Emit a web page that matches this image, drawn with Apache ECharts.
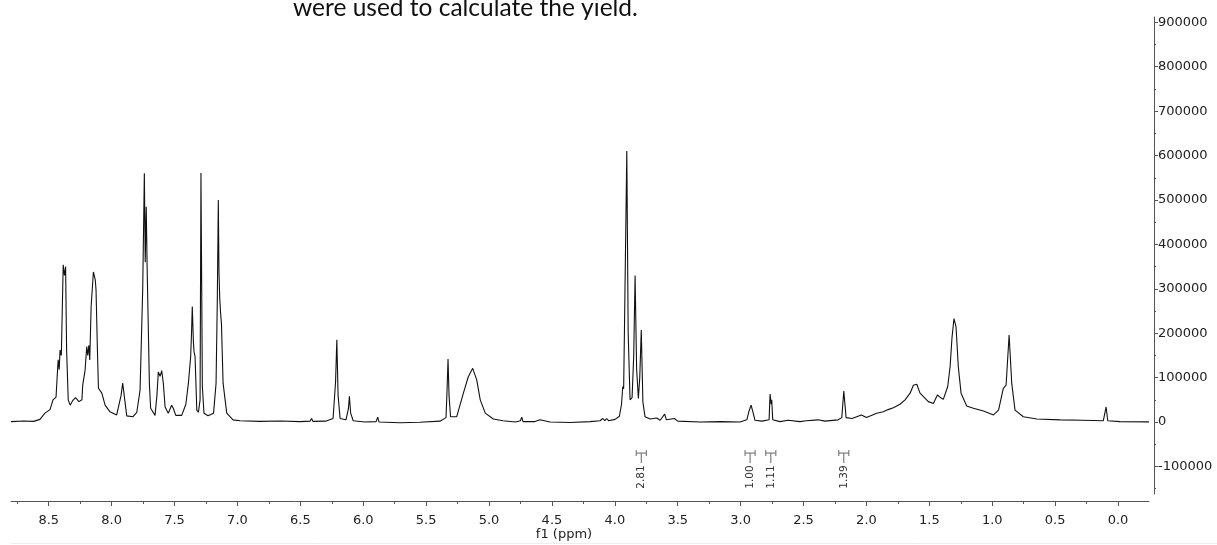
<!DOCTYPE html>
<html>
<head>
<meta charset="utf-8">
<script src="https://cdn.jsdelivr.net/npm/echarts@6/dist/echarts.min.js"></script>
<style>
  html, body { margin: 0; padding: 0; background: #ffffff; }
  #chart { width: 1217px; height: 545px; }
</style>
</head>
<body>
<div id="chart"></div>
<script>
// 1H NMR trace: chemical shift (ppm) and intensity, listed from low field to high field
const shifts = [
  8.80, 8.70, 8.62, 8.57, 8.53, 8.515, 8.49, 8.476, 8.466, 8.442, 8.43, 8.425, 8.417, 8.41, 8.40,
  8.385, 8.375, 8.366, 8.358, 8.345, 8.33, 8.31, 8.287, 8.26, 8.236, 8.23, 8.211, 8.198, 8.19, 8.181,
  8.174, 8.163, 8.145, 8.13, 8.124, 8.113, 8.105, 8.078, 8.052, 8.013, 7.96, 7.947, 7.925, 7.912, 7.898,
  7.88, 7.83, 7.80, 7.774, 7.753, 7.74, 7.733, 7.725, 7.718, 7.70, 7.69, 7.655, 7.64, 7.629, 7.615,
  7.602, 7.589, 7.575, 7.55, 7.523, 7.51, 7.49, 7.443, 7.41, 7.39, 7.372, 7.365, 7.359, 7.35, 7.345,
  7.337, 7.323, 7.31, 7.297, 7.29, 7.279, 7.266, 7.234, 7.19, 7.17, 7.16, 7.152, 7.147, 7.141, 7.135,
  7.127, 7.114, 7.085, 7.035, 6.98, 6.82, 6.66, 6.50, 6.423, 6.41, 6.40, 6.30, 6.24, 6.22, 6.21,
  6.20, 6.184, 6.137, 6.118, 6.11, 6.10, 6.08, 5.986, 5.898, 5.885, 5.874, 5.708, 5.55, 5.39, 5.342,
  5.334, 5.326, 5.318, 5.306, 5.257, 5.204, 5.165, 5.13, 5.098, 5.07, 5.03, 4.966, 4.89, 4.79, 4.751,
  4.74, 4.73, 4.635, 4.595, 4.515, 4.356, 4.197, 4.118, 4.096, 4.08, 4.065, 4.05, 3.998, 3.964, 3.947,
  3.937, 3.93, 3.924, 3.905, 3.894, 3.879, 3.863, 3.85, 3.839, 3.827, 3.813, 3.802, 3.79, 3.777, 3.76,
  3.72, 3.667, 3.654, 3.64, 3.604, 3.59, 3.527, 3.50, 3.32, 3.16, 3.005, 2.951, 2.933, 2.917, 2.90,
  2.886, 2.83, 2.774, 2.766, 2.758, 2.753, 2.745, 2.687, 2.623, 2.528, 2.48, 2.385, 2.33, 2.226, 2.196,
  2.18, 2.162, 2.115, 2.04, 2.00, 1.918, 1.866, 1.828, 1.786, 1.733, 1.693, 1.653, 1.627, 1.60, 1.574,
  1.508, 1.468, 1.436, 1.415, 1.389, 1.354, 1.335, 1.32, 1.304, 1.288, 1.27, 1.248, 1.203, 1.15, 1.07,
  0.99, 0.95, 0.912, 0.89, 0.866, 0.845, 0.819, 0.753, 0.646, 0.46, 0.28, 0.117, 0.095, 0.082, -0.016,
  -0.246
];
const intensities = [
  1000, 2500, 1500, 6000, 20000, 16000, 28000, 24000, 50000, 56000, 117000, 140000, 118000, 162000, 150000,
  354000, 330000, 350000, 162000, 50000, 38000, 48000, 55000, 46000, 50000, 83000, 117000, 170000, 150000, 173000,
  140000, 260000, 338000, 320000, 297000, 162000, 76000, 65000, 38000, 23000, 16000, 20000, 60000, 88000, 55000,
  14000, 12000, 22000, 72000, 300000, 560000, 360000, 485000, 350000, 87000, 31000, 15000, 60000, 113000, 103000,
  116000, 87000, 34000, 20000, 38000, 31000, 15000, 15000, 40000, 87000, 147000, 200000, 260000, 180000, 158000,
  148000, 27000, 22000, 50000, 561000, 80000, 20000, 14000, 20000, 87000, 275000, 500000, 340000, 280000, 250000,
  220000, 87000, 20000, 5000, 3000, 1500, 2500, 1000, 2000, 8000, 1500, 2000, 8000, 90000, 185000,
  60000, 8000, 5000, 30000, 58000, 20000, 3000, 0, 1000, 11000, 0, -1500, -500, 2000, 10000,
  70000, 142000, 60000, 12000, 12000, 65000, 102000, 121000, 95000, 50000, 20000, 7000, 3000, 0, 3000,
  11000, 1000, 1000, 5000, 0, -1000, 1000, 3000, 8000, 3000, 8000, 3000, 6000, 13000, 40000,
  80000, 75000, 200000, 610000, 200000, 50000, 55000, 150000, 330000, 120000, 53000, 100000, 207000, 45000, 12000,
  7000, 9000, 12000, 4000, 18000, 5000, 8000, 2000, 0, 1000, 0, 5000, 25000, 38000, 20000,
  4000, 2000, 5000, 63000, 40000, 50000, 5000, 1000, 4000, 1000, 3000, 5000, 2000, 5000, 10000,
  70000, 10000, 8000, 16000, 10000, 20000, 23000, 28000, 32000, 40000, 50000, 65000, 83000, 85000, 65000,
  46000, 42000, 61000, 56000, 51000, 80000, 125000, 190000, 233000, 215000, 125000, 65000, 36000, 31000, 25000,
  16000, 27000, 76000, 83000, 196000, 87000, 27000, 12000, 7000, 5000, 4000, 3000, 34000, 3000, 1000,
  500
];

// Axis ticks
const xTickLabels = [8.5, 8.0, 7.5, 7.0, 6.5, 6.0, 5.5, 5.0, 4.5, 4.0, 3.5, 3.0, 2.5, 2.0, 1.5, 1.0, 0.5, 0.0];
const xMinorTicks = [8.75, 8.25, 7.75, 7.25, 6.75, 6.25, 5.75, 5.25, 4.75, 4.25, 3.75, 3.25, 2.75, 2.25, 1.75, 1.25, 0.75, 0.25];
const yTickLabels = [-100000, 0, 100000, 200000, 300000, 400000, 500000, 600000, 700000, 800000, 900000];
const yMinorTicks = [-150000, -50000, 50000, 150000, 250000, 350000, 450000, 550000, 650000, 750000, 850000];

// Integral regions (centre shift) and their relative values
const integralShifts = [3.79, 2.925, 2.76, 2.18];
const integralValues = ['2.81', '1.00', '1.11', '1.39'];
const integralWidth = 0.08;

const FONT = 'DejaVu Sans';
const AXIS_COLOR = '#555555';
const TEXT_COLOR = '#222222';

const X_MIN = -0.246, X_MAX = 8.8;
const Y_MIN = -162000, Y_MAX = 912000;

const spectrum = shifts.map((s, i) => [s, intensities[i]]);
const integrals = integralShifts.map((s, i) => [s, Number(integralValues[i])]);

const chart = echarts.init(document.getElementById('chart'), null, { renderer: 'canvas' });

const option = {
  animation: false,
  backgroundColor: '#ffffff',
  grid: { left: 11, right: 68, top: 17, bottom: 51 },
  xAxis: [
    {
      type: 'value', position: 'bottom', inverse: true, min: X_MIN, max: X_MAX, offset: 7,
      axisLine: { onZero: false, lineStyle: { color: AXIS_COLOR, width: 1 } },
      axisTick: { customValues: xTickLabels, length: 5, lineStyle: { color: AXIS_COLOR } },
      axisLabel: {
        customValues: xTickLabels, formatter: v => v.toFixed(1),
        fontFamily: FONT, fontSize: 13, color: TEXT_COLOR, margin: 13
      },
      splitLine: { show: false }
    },
    {
      type: 'value', position: 'bottom', inverse: true, min: X_MIN, max: X_MAX, offset: 7,
      axisLine: { show: false, onZero: false },
      axisTick: { customValues: xMinorTicks, length: 3, lineStyle: { color: AXIS_COLOR } },
      axisLabel: { show: false },
      splitLine: { show: false }
    }
  ],
  yAxis: [
    {
      type: 'value', position: 'right', min: Y_MIN, max: Y_MAX, offset: 5,
      axisLine: { show: true, onZero: false, lineStyle: { color: AXIS_COLOR, width: 1 } },
      axisTick: { show: true, customValues: yTickLabels, length: 4, lineStyle: { color: AXIS_COLOR } },
      axisLabel: {
        customValues: yTickLabels, formatter: v => String(v),
        fontFamily: FONT, fontSize: 13, color: TEXT_COLOR, margin: 4
      },
      splitLine: { show: false }
    },
    {
      type: 'value', position: 'right', min: Y_MIN, max: Y_MAX, offset: 5,
      axisLine: { show: false, onZero: false },
      axisTick: { show: true, customValues: yMinorTicks, length: 2, lineStyle: { color: AXIS_COLOR } },
      axisLabel: { show: false },
      splitLine: { show: false }
    }
  ],
  series: [
    {
      type: 'line', data: spectrum, xAxisIndex: 0, yAxisIndex: 0,
      showSymbol: false, symbol: 'none', silent: true,
      lineStyle: { color: '#111111', width: 1.1 }
    },
    {
      // integral brackets with rotated value labels below the baseline
      type: 'custom', data: integrals, xAxisIndex: 0, yAxisIndex: 0, silent: true, clip: false,
      renderItem: (params, api) => {
        const base = api.coord([api.value(0), 0]);
        const half = Math.abs(api.size([integralWidth, 0])[0]) / 2;
        const cx = base[0];
        const yb = base[1] + 31;
        const stroke = { stroke: '#666666', lineWidth: 1 };
        return {
          type: 'group',
          children: [
            { type: 'line', shape: { x1: cx - half, y1: yb, x2: cx + half, y2: yb }, style: stroke },
            { type: 'line', shape: { x1: cx - half, y1: yb - 3, x2: cx - half, y2: yb + 3 }, style: stroke },
            { type: 'line', shape: { x1: cx + half, y1: yb - 3, x2: cx + half, y2: yb + 3 }, style: stroke },
            { type: 'line', shape: { x1: cx, y1: yb, x2: cx, y2: yb + 10 }, style: stroke },
            {
              type: 'text', x: cx, y: yb + 24, rotation: Math.PI / 2,
              style: {
                text: integralValues[params.dataIndex], fontFamily: FONT, fontSize: 10.5,
                fill: '#333333', align: 'center', verticalAlign: 'middle'
              }
            }
          ]
        };
      }
    }
  ],
  graphic: [
    {
      type: 'text', left: 293, top: -4,
      style: { text: 'were used to calculate the yield.', fontFamily: 'Lato', fontSize: 24.5, fill: '#111111' }
    },
    {
      type: 'text', x: 564, y: 535,
      style: { text: 'f1 (ppm)', fontFamily: FONT, fontSize: 13, fill: TEXT_COLOR, align: 'center', verticalAlign: 'middle' }
    },
    {
      type: 'line', shape: { x1: 11, y1: 543.5, x2: 1217, y2: 543.5 },
      style: { stroke: '#eeeeee', lineWidth: 1 }
    }
  ]
};

chart.setOption(option);
</script>
</body>
</html>
